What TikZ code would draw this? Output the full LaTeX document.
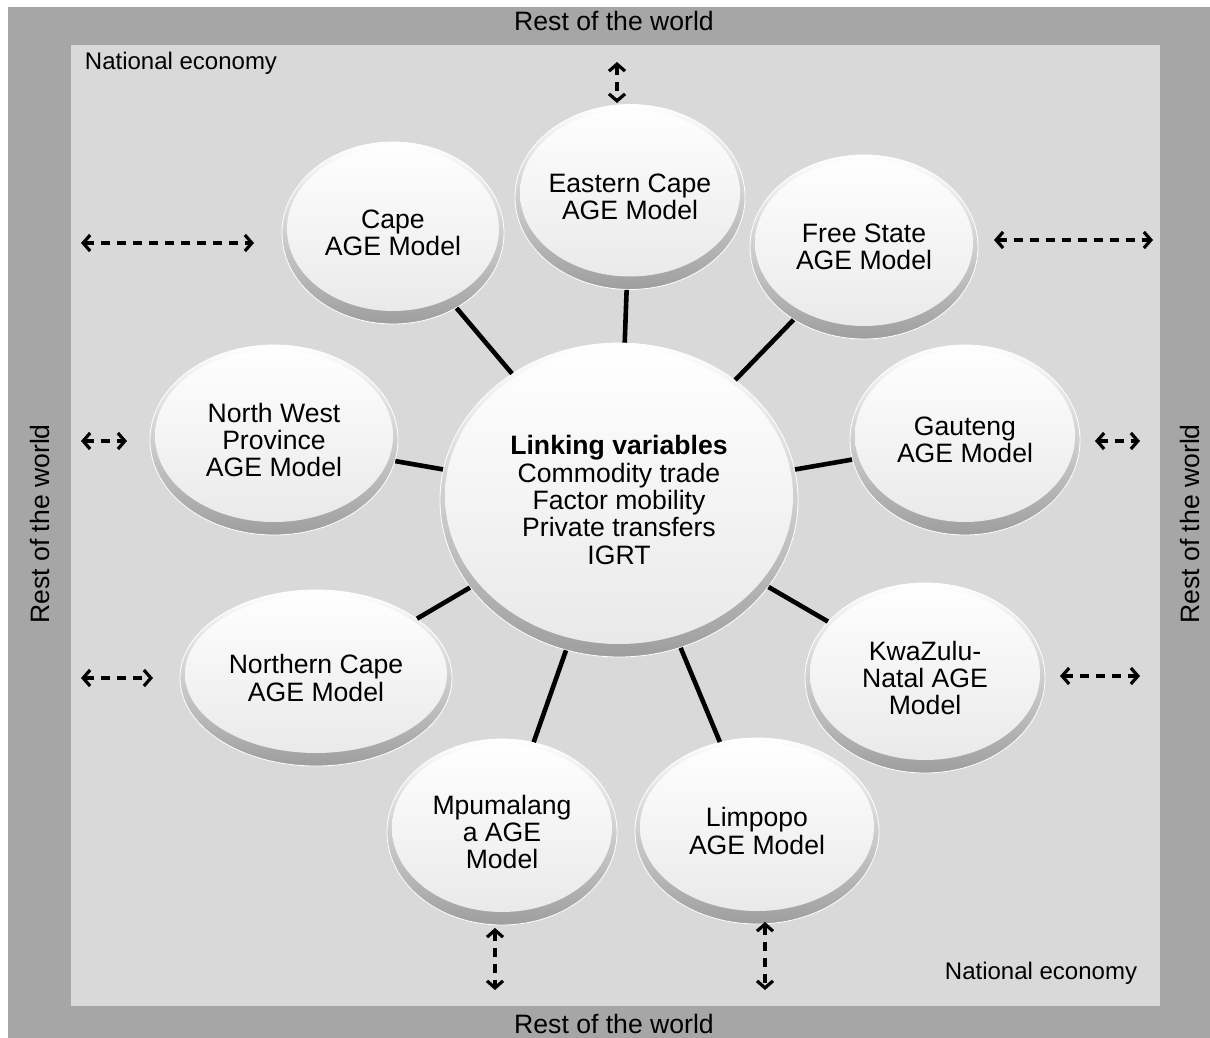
\documentclass[tikz,border=0pt]{standalone}
\usepackage{fontspec}
\setmainfont{Liberation Sans}
\usetikzlibrary{shapes.geometric,arrows.meta}
\definecolor{outerg}{HTML}{A6A6A6}
\definecolor{innerg}{HTML}{D9D9D9}
\begin{document}
\begin{tikzpicture}[x=1pt,y=-1pt,
  txt/.style={font=\fontsize{26.6}{27.3}\selectfont, align=center, text=black},
  smalltxt/.style={font=\fontsize{24}{26}\selectfont, text=black},
  glass/.style n args={2}{ellipse, inner sep=0pt, minimum width=#1, minimum height=#2,
     top color=white, bottom color=black!38, draw=white, line width=0.8pt, txt,
     path picture={\shade[top color=white, bottom color=black!9]
       ([yshift=4pt]path picture bounding box.center) ellipse [x radius={0.5*#1-5pt}, y radius={0.5*#2-9pt}];}},
  link/.style={line width=4.6pt, black},
  dbl/.style={dash pattern=on 9pt off 7pt, line width=3.2pt,
     {Straight Barb[length=7pt,width=16pt,line width=3.2pt]}-{Straight Barb[length=7pt,width=16pt,line width=3.2pt]}}
]
\useasboundingbox (0,0) rectangle (1210,1038);
\fill[white] (0,0) rectangle (1210,1038);
\fill[outerg] (8,7) rectangle (1210,1038);
\fill[innerg] (71,45) rectangle (1160,1006);

% border texts
\node[txt, anchor=base] (rtop) at (614,31) {Rest of the world};
\node[txt, anchor=base] (rbot) at (614,1033) {Rest of the world};
\node[txt, rotate=90] (rleft) at (40,524) {Rest of the world};
\node[txt, rotate=90] (rright) at (1190,524) {Rest of the world};
\node[smalltxt, anchor=base] (ne1) at (181,70) {National economy};
\node[smalltxt, anchor=base] (ne2) at (1041,979) {National economy};

% ellipses
\node[glass={358pt}{314pt}] (ctr) at (619,500) {\textbf{Linking variables}\\Commodity trade\\Factor mobility\\Private transfers\\IGRT};
\node[glass={222pt}{182pt}] (cape) at (393,233) {Cape\\AGE Model};
\node[glass={230pt}{185pt}] (ecape) at (630,197) {Eastern Cape\\AGE Model};
\node[glass={228pt}{184pt}] (fstate) at (864,247) {Free State\\AGE Model};
\node[glass={230pt}{190pt}] (gaut) at (965,440) {Gauteng\\AGE Model};
\node[glass={240pt}{190pt}] (kzn) at (925,678) {KwaZulu-\\Natal AGE\\Model};
\node[glass={244pt}{186pt}] (limp) at (757,831) {Limpopo\\AGE Model};
\node[glass={230pt}{186pt}] (mpu) at (502,832) {Mpumalang\\a AGE\\Model};
\node[glass={272pt}{176pt}] (ncape) at (316,678) {Northern Cape\\AGE Model};
\node[glass={248pt}{190pt}] (nw) at (274,440) {North West\\Province\\AGE Model};

% links
\foreach \n in {cape,ecape,fstate,gaut,kzn,limp,mpu,ncape,nw}
  \draw[link] (ctr) -- (\n);

% dashed double arrows
\coordinate (a1s) at (617,62);  \coordinate (a1e) at (617,103);
\coordinate (a2s) at (81,243);  \coordinate (a2e) at (254,243);
\coordinate (a3s) at (994,240); \coordinate (a3e) at (1153,240);
\coordinate (a4s) at (81,441);  \coordinate (a4e) at (127,441);
\coordinate (a5s) at (1095,441);\coordinate (a5e) at (1140,441);
\coordinate (a6s) at (81,678);  \coordinate (a6e) at (153,678);
\coordinate (a7s) at (1060,676);\coordinate (a7e) at (1140,676);
\coordinate (a8s) at (495,928); \coordinate (a8e) at (495,990);
\coordinate (a9s) at (765,922); \coordinate (a9e) at (765,990);
\foreach \i in {1,...,9}
  \draw[dbl] (a\i s) -- (a\i e);
\end{tikzpicture}
\end{document}
